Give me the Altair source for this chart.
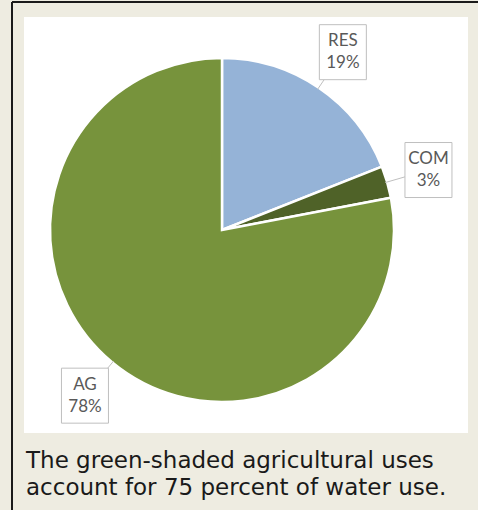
import altair as alt
import pandas as pd

# Share of water use by sector
categories = ["RES", "COM", "AG"]
shares = [19, 3, 78]
colors = ["#95B3D7", "#4F6228", "#77933C"]

caption = ["The green-shaded agricultural uses", "account for 75 percent of water use."]

W, H = 478, 510
CX, CY = 222, 230          # pie centre (px)
R = 172                    # pie radius (px)
LABEL_R = 215              # radius where callout boxes sit
BOX_W, BOX_H = 47, 55

df = pd.DataFrame({"cat": categories, "share": shares, "order": range(len(categories))})

color_scale = alt.Scale(domain=categories, range=colors)

# mid-angle of each slice, measured clockwise from 12 o'clock
polar = (
    alt.Chart(df)
    .transform_joinaggregate(total="sum(share)")
    .transform_window(cum="sum(share)", sort=[alt.SortField("order")], frame=[None, 0])
    .transform_calculate(
        mid="2*PI*(datum.cum - datum.share/2)/datum.total",
        lx=f"{CX} + {LABEL_R}*sin(datum.mid)",
        ly=f"{CY} - {LABEL_R}*cos(datum.mid)",
        ex=f"{CX} + {R - 2}*sin(datum.mid)",
        ey=f"{CY} - {R - 2}*cos(datum.mid)",
        px=f"{CX} + {LABEL_R - 20}*sin(datum.mid)",
        py=f"{CY} - {LABEL_R - 20}*cos(datum.mid)",
        bx1=f"datum.lx - {BOX_W / 2}",
        bx2=f"datum.lx + {BOX_W / 2}",
        by1=f"datum.ly - {BOX_H / 2}",
        by2=f"datum.ly + {BOX_H / 2}",
        label="datum.cat + '\\n' + datum.share + '%'",
    )
)

frame = alt.Chart(pd.DataFrame({"k": [0]}))

# white plot panel on the tan card
panel = frame.mark_rect(color="white").encode(
    x=alt.value(24), x2=alt.value(468), y=alt.value(17), y2=alt.value(433)
)
border_left = frame.mark_rule(color="#1a1a1a", strokeWidth=2).encode(
    x=alt.value(12), y=alt.value(2), y2=alt.value(H)
)
border_top = frame.mark_rule(color="#1a1a1a", strokeWidth=2).encode(
    x=alt.value(12), x2=alt.value(W), y=alt.value(2)
)

pie = (
    alt.Chart(df)
    .mark_arc(outerRadius=R, stroke="white", strokeWidth=2.5)
    .encode(
        theta=alt.Theta("share:Q", stack=True),
        order=alt.Order("order:Q"),
        color=alt.Color("cat:N", scale=color_scale, legend=None),
        x=alt.value(CX),
        y=alt.value(CY),
    )
)

leaders = polar.mark_rule(color="#BFBFBF", strokeWidth=1).encode(
    x=alt.X("ex:Q", scale=None),
    y=alt.Y("ey:Q", scale=None),
    x2="px:Q",
    y2="py:Q",
)

boxes = polar.mark_rect(fill="white", stroke="#BFBFBF", strokeWidth=1).encode(
    x=alt.X("bx1:Q", scale=None),
    x2="bx2:Q",
    y=alt.Y("by1:Q", scale=None),
    y2="by2:Q",
)

labels = polar.mark_text(
    font="Lato", fontSize=17, color="#595959", lineBreak="\n", lineHeight=22, dy=-11,
    baseline="middle", align="center",
).encode(
    x=alt.X("lx:Q", scale=None),
    y=alt.Y("ly:Q", scale=None),
    text="label:N",
)

cap_df = pd.DataFrame({"line": caption, "row": range(len(caption))})
caption_text = (
    alt.Chart(cap_df)
    .mark_text(font="DejaVu Sans", fontSize=23, color="#1a1a1a",
               align="left", baseline="alphabetic")
    .transform_calculate(cy="468 + 27*datum.row")
    .encode(x=alt.value(26), y=alt.Y("cy:Q", scale=None), text="line:N")
)

chart = (
    alt.layer(panel, border_left, border_top, pie, leaders, boxes, labels, caption_text)
    .properties(width=W, height=H, background="#EEECE1", padding=0, autosize="none")
    .configure_view(stroke=None)
)

chart.save("out.html", embed_options={"renderer": "svg", "actions": False})
